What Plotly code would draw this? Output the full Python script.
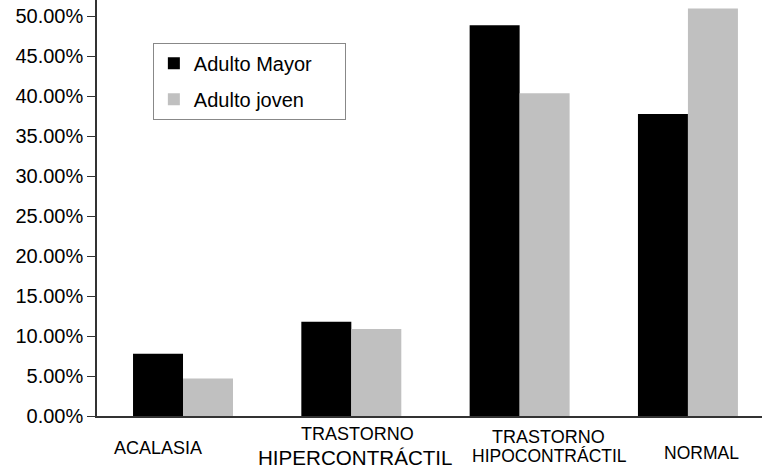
import plotly.graph_objects as go

categories = ["ACALASIA", "TRASTORNO HIPERCONTRÁCTIL", "TRASTORNO HIPOCONTRÁCTIL", "NORMAL"]
series_names = ["Adulto Mayor", "Adulto joven"]
adulto_mayor = [7.8, 11.8, 48.9, 37.8]
adulto_joven = [4.7, 10.9, 40.4, 51.0]
y_ticks = [0, 5, 10, 15, 20, 25, 30, 35, 40, 45, 50]
y_tick_labels = ["0.00%", "5.00%", "10.00%", "15.00%", "20.00%", "25.00%",
                 "30.00%", "35.00%", "40.00%", "45.00%", "50.00%"]

FONT = "Liberation Sans, Arial, Helvetica, sans-serif"
AXIS = "#333333"
PAD = "\u00a0" * 5  # widen legend box like the original

x_idx = list(range(len(categories)))

fig = go.Figure()
fig.add_trace(go.Bar(x=x_idx, y=adulto_mayor, name=series_names[0] + PAD, legendgroup="a",
                     marker=dict(color="#000000", line=dict(width=0))))
fig.add_trace(go.Bar(x=x_idx, y=adulto_joven, name=series_names[1] + PAD, legendgroup="b",
                     marker=dict(color="#c0c0c0", line=dict(width=0))))

# category labels: (category index, text, x offset px, y offset px, font size)
label_lines = [
    (0, "ACALASIA", -25, -32, 18),
    (1, "TRASTORNO", 6, -18, 18),
    (1, "HIPERCONTRÁCTIL", 4, -41, 20.6),
    (2, "TRASTORNO", 29, -21, 18),
    (2, "HIPOCONTRÁCTIL", 30, -40, 17.5),
    (3, "NORMAL", 14, -37, 17.5),
]
for ci, txt, dx, dy, fs in label_lines:
    fig.add_annotation(x=x_idx[ci], y=0, xref="x", yref="paper", text=txt, showarrow=False,
                       xanchor="center", yanchor="middle", xshift=dx, yshift=dy,
                       font=dict(family=FONT, size=fs, color="#000"))

fig.update_layout(
    width=762, height=468,
    margin=dict(l=97, r=0, t=0, b=52, pad=0),
    paper_bgcolor="white", plot_bgcolor="white",
    barmode="group", bargap=0.406, bargroupgap=0,
    font=dict(family=FONT, color="#000"),
    showlegend=True,
    legend=dict(x=0.084, y=0.897, xanchor="left", yanchor="top",
                bgcolor="white", bordercolor="#888888", borderwidth=1,
                font=dict(family=FONT, size=20, color="#000"),
                itemwidth=30, tracegroupgap=7, traceorder="grouped"),
    xaxis=dict(range=[-0.511, 3.44], showticklabels=False, ticks="",
               showline=True, linecolor=AXIS, linewidth=1.5, showgrid=False, zeroline=False),
    yaxis=dict(range=[0, 52.06], tickvals=y_ticks, ticktext=y_tick_labels,
               ticks="outside", ticklen=8, tickcolor=AXIS, tickwidth=1,
               showline=True, linecolor=AXIS, linewidth=1.5, showgrid=False, zeroline=False,
               tickfont=dict(family=FONT, size=20, color="#000")),
)

fig.write_html("out.html", config={"displayModeBar": False},
               post_script="document.body.style.margin='0px';document.body.style.overflow='hidden';")
